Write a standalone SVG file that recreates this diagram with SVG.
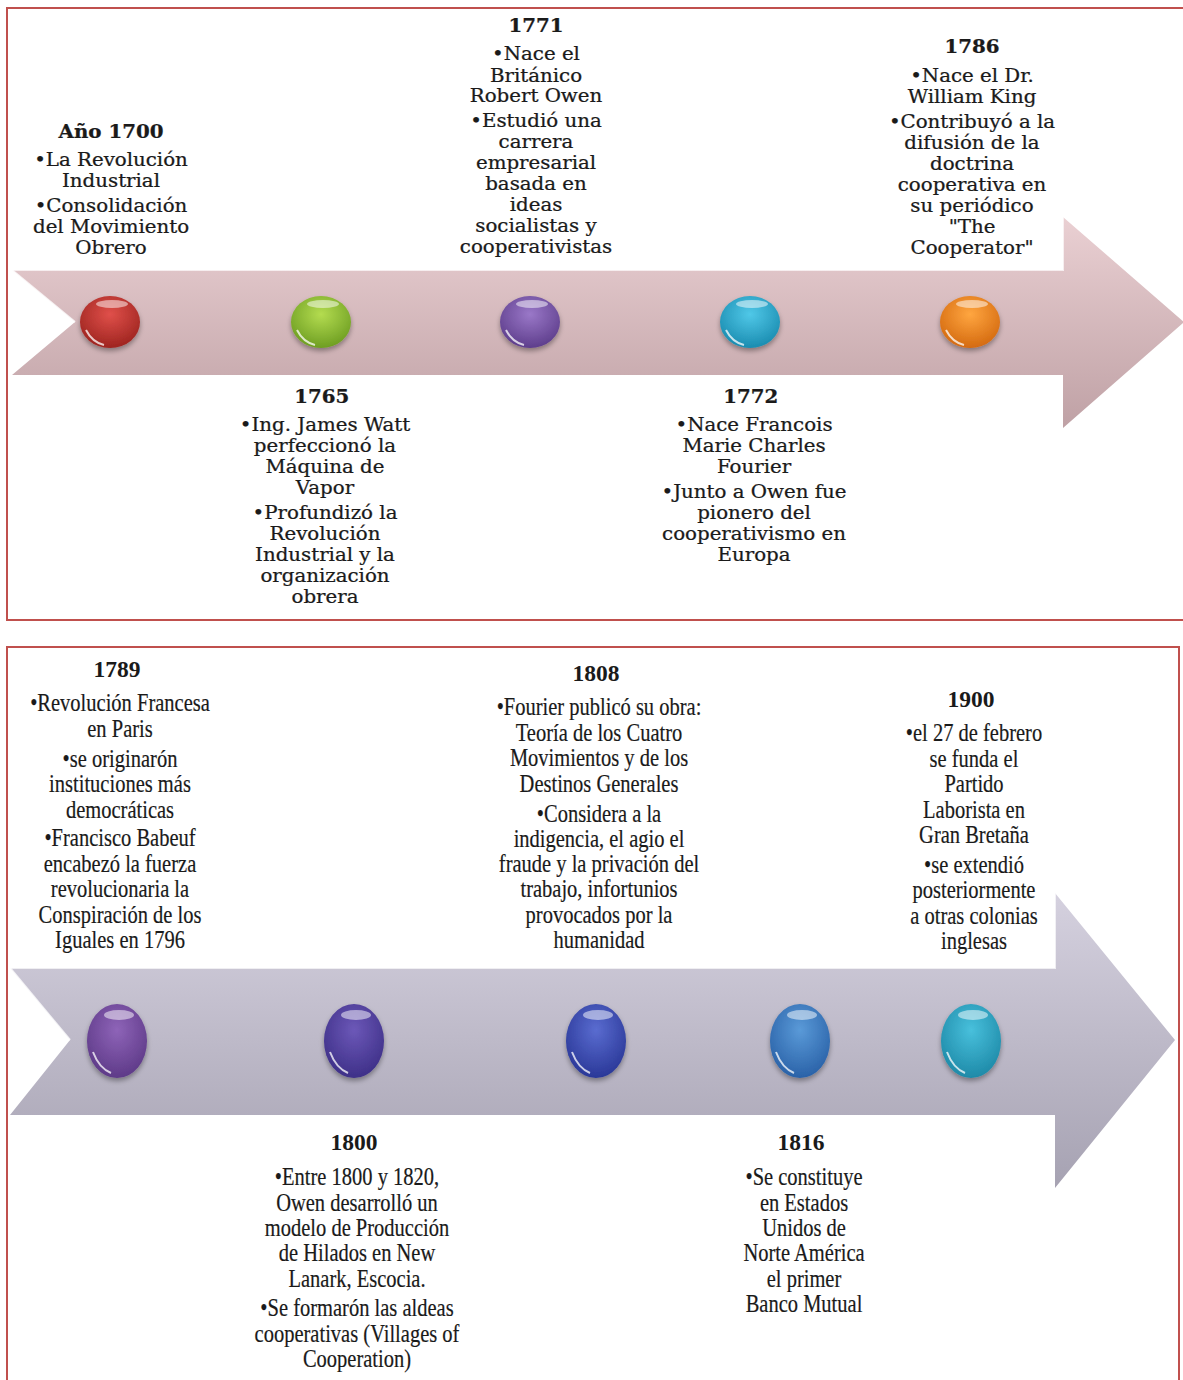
<svg xmlns="http://www.w3.org/2000/svg" width="1183" height="1380" viewBox="0 0 1183 1380">
<style>
.t{font-family:"DejaVu Serif",serif;font-size:18px;fill:#1a1a1a;text-anchor:middle;stroke:#1a1a1a;stroke-width:0.25}
.b{font-family:"Liberation Serif",serif;font-size:25px;fill:#1a1a1a;text-anchor:middle;stroke:#1a1a1a;stroke-width:0.2}
.by{font-family:"Liberation Serif",serif;font-size:23.5px;font-weight:bold;fill:#1a1a1a;text-anchor:middle}
.bold{font-weight:bold}
.frame{fill:#fff;stroke:#c0504d;stroke-width:2}
.hl{fill:#fff;opacity:0.5}
.hc{fill:none;stroke:#fff;stroke-opacity:0.75;stroke-width:2}
</style>
<defs>
<linearGradient id="gTop" x1="0" y1="0" x2="0" y2="1"><stop offset="0" stop-color="#ead0d3"/><stop offset="1" stop-color="#bfa1a5"/></linearGradient>
<linearGradient id="gBot" x1="0" y1="0" x2="0" y2="1"><stop offset="0" stop-color="#d5d1df"/><stop offset="1" stop-color="#a6a2b2"/></linearGradient>
<filter id="sh" x="-30%" y="-30%" width="160%" height="170%"><feDropShadow dx="0" dy="3" stdDeviation="2.5" flood-color="#000" flood-opacity="0.35"/></filter>
<radialGradient id="cRed" cx="0.5" cy="0.35" r="0.65"><stop offset="0" stop-color="#e0504a"/><stop offset="1" stop-color="#9e2420"/></radialGradient>
<radialGradient id="cGreen" cx="0.5" cy="0.35" r="0.65"><stop offset="0" stop-color="#b4dc50"/><stop offset="1" stop-color="#6e9e22"/></radialGradient>
<radialGradient id="cPurple" cx="0.5" cy="0.35" r="0.65"><stop offset="0" stop-color="#9a78c8"/><stop offset="1" stop-color="#5e3e8c"/></radialGradient>
<radialGradient id="cCyan" cx="0.5" cy="0.35" r="0.65"><stop offset="0" stop-color="#50c8e8"/><stop offset="1" stop-color="#1a8cb0"/></radialGradient>
<radialGradient id="cOrange" cx="0.5" cy="0.35" r="0.65"><stop offset="0" stop-color="#ffa640"/><stop offset="1" stop-color="#d46a10"/></radialGradient>
<radialGradient id="cPur2" cx="0.5" cy="0.35" r="0.65"><stop offset="0" stop-color="#8e64b8"/><stop offset="1" stop-color="#5e3a88"/></radialGradient>
<radialGradient id="cInd" cx="0.5" cy="0.35" r="0.65"><stop offset="0" stop-color="#6c58b8"/><stop offset="1" stop-color="#3e3088"/></radialGradient>
<radialGradient id="cBlue" cx="0.5" cy="0.35" r="0.65"><stop offset="0" stop-color="#5a6cd0"/><stop offset="1" stop-color="#2a3898"/></radialGradient>
<radialGradient id="cBlue2" cx="0.5" cy="0.35" r="0.65"><stop offset="0" stop-color="#5a9ad8"/><stop offset="1" stop-color="#2a62a8"/></radialGradient>
<radialGradient id="cTeal" cx="0.5" cy="0.35" r="0.65"><stop offset="0" stop-color="#48c0dc"/><stop offset="1" stop-color="#1e8aa8"/></radialGradient>
</defs>

<g id="frames">
<rect class="frame" x="7" y="8" width="1190" height="612"/>
<rect class="frame" x="7" y="647" width="1172" height="760"/>
</g>

<g id="connectors">
<polygon points="12,270 1063,270 1063,217 1184,322 1063,428 1063,375 12,375 75,322" fill="url(#gTop)"/>
<polyline points="12,270 1063,270 1063,217" fill="none" stroke="#fff" stroke-opacity="0.7" stroke-width="2"/>
<polyline points="12,270 75,322" fill="none" stroke="#fff" stroke-opacity="0.8" stroke-width="2"/>
<polygon points="10,968 1055,968 1055,893 1175,1040 1055,1188 1055,1115 10,1115 70,1040" fill="url(#gBot)"/>
<polyline points="10,968 1055,968 1055,893" fill="none" stroke="#fff" stroke-opacity="0.7" stroke-width="2"/>
<polyline points="10,968 70,1040" fill="none" stroke="#fff" stroke-opacity="0.8" stroke-width="2"/>
</g>

<g id="beads">
<g id="bead-1700" filter="url(#sh)"><ellipse cx="110" cy="322" rx="30" ry="26" fill="url(#cRed)"/><ellipse class="hl" cx="112" cy="304" rx="16" ry="4"/><path class="hc" d="M86,330 Q92,342 104,345"/></g>
<g id="bead-1765" filter="url(#sh)"><ellipse cx="321" cy="322" rx="30" ry="26" fill="url(#cGreen)"/><ellipse class="hl" cx="323" cy="304" rx="16" ry="4"/><path class="hc" d="M297,330 Q303,342 315,345"/></g>
<g id="bead-1771" filter="url(#sh)"><ellipse cx="530" cy="322" rx="30" ry="26" fill="url(#cPurple)"/><ellipse class="hl" cx="532" cy="304" rx="16" ry="4"/><path class="hc" d="M506,330 Q512,342 524,345"/></g>
<g id="bead-1772" filter="url(#sh)"><ellipse cx="750" cy="322" rx="30" ry="26" fill="url(#cCyan)"/><ellipse class="hl" cx="752" cy="304" rx="16" ry="4"/><path class="hc" d="M726,330 Q732,342 744,345"/></g>
<g id="bead-1786" filter="url(#sh)"><ellipse cx="970" cy="322" rx="30" ry="26" fill="url(#cOrange)"/><ellipse class="hl" cx="972" cy="304" rx="16" ry="4"/><path class="hc" d="M946,330 Q952,342 964,345"/></g>
<g id="bead-1789" filter="url(#sh)"><ellipse cx="117" cy="1041" rx="30" ry="37" fill="url(#cPur2)"/><ellipse class="hl" cx="119" cy="1015" rx="15" ry="5"/><path class="hc" d="M93,1052 Q99,1068 111,1073"/></g>
<g id="bead-1800" filter="url(#sh)"><ellipse cx="354" cy="1041" rx="30" ry="37" fill="url(#cInd)"/><ellipse class="hl" cx="356" cy="1015" rx="15" ry="5"/><path class="hc" d="M330,1052 Q336,1068 348,1073"/></g>
<g id="bead-1808" filter="url(#sh)"><ellipse cx="596" cy="1041" rx="30" ry="37" fill="url(#cBlue)"/><ellipse class="hl" cx="598" cy="1015" rx="15" ry="5"/><path class="hc" d="M572,1052 Q578,1068 590,1073"/></g>
<g id="bead-1816" filter="url(#sh)"><ellipse cx="800" cy="1041" rx="30" ry="37" fill="url(#cBlue2)"/><ellipse class="hl" cx="802" cy="1015" rx="15" ry="5"/><path class="hc" d="M776,1052 Q782,1068 794,1073"/></g>
<g id="bead-1900" filter="url(#sh)"><ellipse cx="971" cy="1041" rx="30" ry="37" fill="url(#cTeal)"/><ellipse class="hl" cx="973" cy="1015" rx="15" ry="5"/><path class="hc" d="M947,1052 Q953,1068 965,1073"/></g>
</g>

<g id="node-1700" transform="translate(111,0) scale(1.1,1)">
<text class="t bold" x="0" y="138">Año 1700</text>
<text class="t"><tspan x="0" y="166">•La Revolución</tspan><tspan x="0" y="187">Industrial</tspan><tspan x="0" y="212">•Consolidación</tspan><tspan x="0" y="233">del Movimiento</tspan><tspan x="0" y="254">Obrero</tspan></text>
</g>
<g id="node-1771" transform="translate(536,0) scale(1.1,1)">
<text class="t bold" x="0" y="32">1771</text>
<text class="t"><tspan x="0" y="60">•Nace el</tspan><tspan x="0" y="82">Británico</tspan><tspan x="0" y="102">Robert Owen</tspan><tspan x="0" y="127">•Estudió una</tspan><tspan x="0" y="148">carrera</tspan><tspan x="0" y="169">empresarial</tspan><tspan x="0" y="190">basada en</tspan><tspan x="0" y="211">ideas</tspan><tspan x="0" y="232">socialistas y</tspan><tspan x="0" y="253">cooperativistas</tspan></text>
</g>
<g id="node-1786" transform="translate(972,0) scale(1.1,1)">
<text class="t bold" x="0" y="53">1786</text>
<text class="t"><tspan x="0" y="82">•Nace el Dr.</tspan><tspan x="0" y="103">William King</tspan><tspan x="0" y="128">•Contribuyó a la</tspan><tspan x="0" y="149">difusión de la</tspan><tspan x="0" y="170">doctrina</tspan><tspan x="0" y="191">cooperativa en</tspan><tspan x="0" y="212">su periódico</tspan><tspan x="0" y="233">"The</tspan><tspan x="0" y="254">Cooperator"</tspan></text>
</g>
<g id="node-1765" transform="translate(325,0) scale(1.1,1)">
<text class="t bold" x="-3" y="403">1765</text>
<text class="t"><tspan x="0" y="431">•Ing. James Watt</tspan><tspan x="0" y="452">perfeccionó la</tspan><tspan x="0" y="473">Máquina de</tspan><tspan x="0" y="494">Vapor</tspan><tspan x="0" y="519">•Profundizó la</tspan><tspan x="0" y="540">Revolución</tspan><tspan x="0" y="561">Industrial y la</tspan><tspan x="0" y="582">organización</tspan><tspan x="0" y="603">obrera</tspan></text>
</g>
<g id="node-1772" transform="translate(754,0) scale(1.1,1)">
<text class="t bold" x="-3" y="403">1772</text>
<text class="t"><tspan x="0" y="431">•Nace Francois</tspan><tspan x="0" y="452">Marie Charles</tspan><tspan x="0" y="473">Fourier</tspan><tspan x="0" y="498">•Junto a Owen fue</tspan><tspan x="0" y="519">pionero del</tspan><tspan x="0" y="540">cooperativismo en</tspan><tspan x="0" y="561">Europa</tspan></text>
</g>

<g id="node-1789">
<text class="by" x="117" y="677">1789</text>
<text class="b" transform="translate(120,0) scale(0.82,1)"><tspan x="0" y="711">•Revolución Francesa</tspan><tspan x="0" y="737">en Paris</tspan><tspan x="0" y="767">•se originarón</tspan><tspan x="0" y="792">instituciones más</tspan><tspan x="0" y="818">democráticas</tspan><tspan x="0" y="846">•Francisco Babeuf</tspan><tspan x="0" y="872">encabezó la fuerza</tspan><tspan x="0" y="897">revolucionaria la</tspan><tspan x="0" y="923">Conspiración de los</tspan><tspan x="0" y="948">Iguales en 1796</tspan></text>
</g>
<g id="node-1808">
<text class="by" x="596" y="681">1808</text>
<text class="b" transform="translate(599,0) scale(0.82,1)"><tspan x="0" y="715">•Fourier publicó su obra:</tspan><tspan x="0" y="741">Teoría de los Cuatro</tspan><tspan x="0" y="766">Movimientos y de los</tspan><tspan x="0" y="792">Destinos Generales</tspan><tspan x="0" y="822">•Considera a la</tspan><tspan x="0" y="847">indigencia, el agio el</tspan><tspan x="0" y="872">fraude y la privación del</tspan><tspan x="0" y="897">trabajo, infortunios</tspan><tspan x="0" y="923">provocados por la</tspan><tspan x="0" y="948">humanidad</tspan></text>
</g>
<g id="node-1900">
<text class="by" x="971" y="707">1900</text>
<text class="b" transform="translate(974,0) scale(0.82,1)"><tspan x="0" y="741">•el 27 de febrero</tspan><tspan x="0" y="767">se funda el</tspan><tspan x="0" y="792">Partido</tspan><tspan x="0" y="818">Laborista en</tspan><tspan x="0" y="843">Gran Bretaña</tspan><tspan x="0" y="873">•se extendió</tspan><tspan x="0" y="898">posteriormente</tspan><tspan x="0" y="924">a otras colonias</tspan><tspan x="0" y="949">inglesas</tspan></text>
</g>
<g id="node-1800">
<text class="by" x="354" y="1150">1800</text>
<text class="b" transform="translate(357,0) scale(0.82,1)"><tspan x="0" y="1185">•Entre 1800 y 1820,</tspan><tspan x="0" y="1211">Owen desarrolló un</tspan><tspan x="0" y="1236">modelo de Producción</tspan><tspan x="0" y="1261">de Hilados en New</tspan><tspan x="0" y="1287">Lanark, Escocia.</tspan><tspan x="0" y="1316">•Se formarón las aldeas</tspan><tspan x="0" y="1342">cooperativas (Villages of</tspan><tspan x="0" y="1367">Cooperation)</tspan></text>
</g>
<g id="node-1816">
<text class="by" x="801" y="1150">1816</text>
<text class="b" transform="translate(804,0) scale(0.82,1)"><tspan x="0" y="1185">•Se constituye</tspan><tspan x="0" y="1211">en Estados</tspan><tspan x="0" y="1236">Unidos de</tspan><tspan x="0" y="1261">Norte América</tspan><tspan x="0" y="1287">el primer</tspan><tspan x="0" y="1312">Banco Mutual</tspan></text>
</g>
</svg>
